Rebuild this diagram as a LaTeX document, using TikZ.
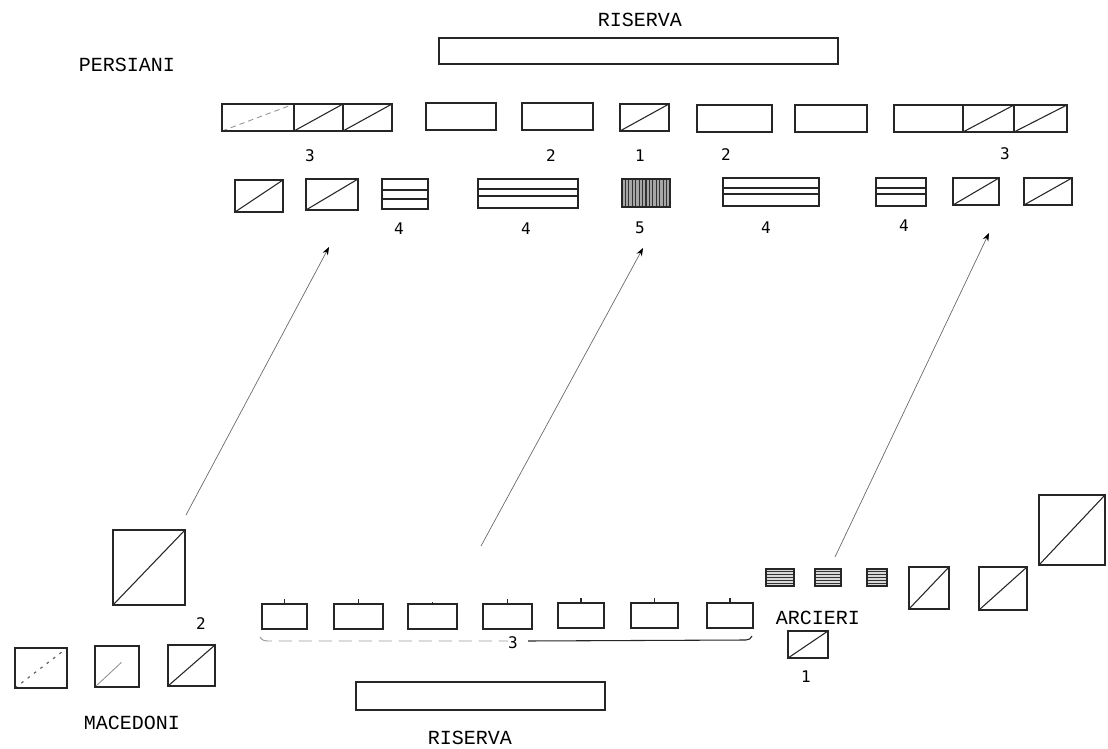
\documentclass[tikz,border=0pt]{standalone}
\usepackage{fontspec}
\setmonofont{Liberation Mono}
\newfontfamily\numfont{DejaVu Sans Mono}
\usetikzlibrary{fit,calc,arrows.meta}
\tikzset{
  unitbox/.style={draw=black!85, line width=1.1pt, inner sep=0pt, fit={#1}},
  diag/.style={path picture={\draw[line width=0.8pt,black!85] (path picture bounding box.south west) -- (path picture bounding box.north east);}},
  diagfaint/.style={path picture={\draw[line width=0.6pt,black!45,dash pattern=on 4pt off 3pt] (path picture bounding box.south west) -- (path picture bounding box.north east);}},
  diagdot/.style={path picture={\draw[line width=0.9pt,black!60,dash pattern=on 2pt off 4pt] (path picture bounding box.south west) -- (path picture bounding box.north east);}},
  diaghalf/.style={path picture={\draw[line width=0.6pt,black!45] (path picture bounding box.south west) -- ($(path picture bounding box.south west)!0.6!(path picture bounding box.north east)$);}},
  hatchv/.style={fill=black!35, path picture={\foreach \i in {1,...,13}{\draw[line width=0.8pt,black!80] ($(path picture bounding box.south west)!\i/14!(path picture bounding box.south east)$) -- ($(path picture bounding box.north west)!\i/14!(path picture bounding box.north east)$);}}},
  hatchh/.style={fill=black!15, path picture={\foreach \i in {1,...,5}{\draw[line width=0.8pt,black!80] ($(path picture bounding box.south west)!\i/6!(path picture bounding box.north west)$) -- ($(path picture bounding box.south east)!\i/6!(path picture bounding box.north east)$);}}},
  lbl/.style={font=\ttfamily\fontsize{15}{18}\selectfont, inner sep=0pt},
  num/.style={font=\numfont\fontsize{12}{14}\selectfont, inner sep=0pt},
  mv/.style={draw=black!60, line width=0.5pt, -{Stealth[length=6pt,width=4.5pt,black]}},
  tick/.style={line width=0.9pt,black!85},
  inline/.style={line width=0.9pt,black!85}
}
\begin{document}
\begin{tikzpicture}[x=0.75pt,y=-0.75pt]
\useasboundingbox (0,0) rectangle (1108,749);
\fill[white] (0,0) rectangle (1108,749);

% ---------------- PERSIANI ----------------
\node[lbl] (tRis) at (640,20) {RISERVA};
\node[lbl] (tPer) at (127,65) {PERSIANI};
\node[unitbox={(439,38)(838,64)}] (pRis) {};

% row 1
\node[unitbox={(222,104)(294,131)},diagfaint] (p11) {};
\node[unitbox={(294,104)(343,131)},diag] (p12) {};
\node[unitbox={(343,104)(392,131)},diag] (p13) {};
\node[unitbox={(426,103)(496,130)}] (p14) {};
\node[unitbox={(522,103)(593,130)}] (p15) {};
\node[unitbox={(620,104)(669,131)},diag] (p16) {};
\node[unitbox={(697,105)(772,132)}] (p17) {};
\node[unitbox={(795,105)(867,132)}] (p18) {};
\node[unitbox={(894,105)(963,132)}] (p19) {};
\node[unitbox={(963,105)(1014,132)},diag] (p110) {};
\node[unitbox={(1014,105)(1067,132)},diag] (p111) {};

\node[num] (n3a) at (310,156) {3};
\node[num] (n2a) at (551,156) {2};
\node[num] (n1a) at (640,156) {1};
\node[num] (n2b) at (726,155) {2};
\node[num] (n3b) at (1005,154) {3};

% row 2
\node[unitbox={(235,180)(283,212)},diag] (p21) {};
\node[unitbox={(306,179)(358,210)},diag] (p22) {};
\node[unitbox={(382,179)(428,209)}] (p23) {};
\draw[inline] (p23.west |- 0,190) -- (p23.east |- 0,190);
\draw[inline] (p23.west |- 0,199) -- (p23.east |- 0,199);
\node[unitbox={(478,179)(578,208)}] (p24) {};
\draw[inline] (p24.west |- 0,189) -- (p24.east |- 0,189);
\draw[inline] (p24.west |- 0,196) -- (p24.east |- 0,196);
\node[unitbox={(622,179)(670,207)},hatchv] (p25) {};
\node[unitbox={(723,178)(819,206)}] (p26) {};
\draw[inline] (p26.west |- 0,188) -- (p26.east |- 0,188);
\draw[inline] (p26.west |- 0,194) -- (p26.east |- 0,194);
\node[unitbox={(876,178)(926,206)}] (p27) {};
\draw[inline,line width=1.4pt] (p27.west |- 0,188) -- (p27.east |- 0,188);
\draw[inline] (p27.west |- 0,194) -- (p27.east |- 0,194);
\node[unitbox={(953,178)(999,205)},diag] (p28) {};
\node[unitbox={(1024,178)(1072,205)},diag] (p29) {};

\node[num] (n4a) at (399,229) {4};
\node[num] (n4b) at (526,229) {4};
\node[num] (n5)  at (640,228) {5};
\node[num] (n4c) at (766,228) {4};
\node[num] (n4d) at (904,226) {4};

% ---------------- arrows ----------------
\coordinate (a1s) at (186,515);
\coordinate (a1e) at (329,247);
\coordinate (a2s) at (481,546);
\coordinate (a2e) at (643,248);
\coordinate (a3s) at (835,557);
\coordinate (a3e) at (989,233);
\draw[mv] (a1s) -- (a1e);
\draw[mv] (a2s) -- (a2e);
\draw[mv] (a3s) -- (a3e);

% ---------------- MACEDONI ----------------
\node[unitbox={(113,530)(185,605)},diag] (mBig) {};
\node[unitbox={(15,648)(67,688)},diagdot] (mS1) {};
\node[unitbox={(95,646)(139,687)},diaghalf] (mS2) {};
\node[unitbox={(168,645)(215,686)},diag] (mS3) {};
\node[num] (n2m) at (201,624) {2};
\node[lbl] (tMac) at (132,723) {MACEDONI};

% bottom line of seven
\node[unitbox={(262,604)(307,629)}] (b1) {};
\node[unitbox={(334,604)(383,629)}] (b2) {};
\node[unitbox={(408,604)(457,629)}] (b3) {};
\node[unitbox={(483,604)(532,629)}] (b4) {};
\node[unitbox={(558,603)(604,628)}] (b5) {};
\node[unitbox={(631,603)(678,628)}] (b6) {};
\node[unitbox={(707,603)(753,628)}] (b7) {};
\foreach \b in {b1,b2,b4,b5,b6,b7}{\draw[tick] (\b.north) -- ++(0,-4);}
\draw[tick] (b3.north) -- ++(0,-1.5);

\node[num] (n3m) at (513,643) {3};
\coordinate (brL) at (260,637);
\coordinate (brR) at (752,636);
\draw[line width=0.7pt,black!40,dash pattern=on 10pt off 5pt] (brL) to[out=-60,in=180] ++(8,4) -- (n3m.west |- 0,641) coordinate (brLm);
\draw[line width=0.8pt,black!85] (n3m.east |- 0,641) ++(10,0) -- ($(brR)+(-6,4)$) to[out=0,in=-110] (brR);

\node[unitbox={(356,682)(605,710)}] (mRis) {};
\node[lbl] (tRis2) at (470,738) {RISERVA};

% ARCIERI and right wing
\node[unitbox={(766,569)(794,586)},hatchh] (ar1) {};
\node[unitbox={(815,569)(841,586)},hatchh] (ar2) {};
\node[unitbox={(867,569)(887,586)},hatchh] (ar3) {};
\node[unitbox={(909,567)(949,609)},diag] (r1) {};
\node[unitbox={(979,567)(1027,610)},diag] (r2) {};
\node[unitbox={(1039,495)(1105,565)},diag] (rBig) {};
\node[lbl] (tArc) at (818,618) {ARCIERI};
\node[unitbox={(788,631)(828,658)},diag] (ar0) {};
\node[num] (n1m) at (806,677) {1};
\end{tikzpicture}
\end{document}
